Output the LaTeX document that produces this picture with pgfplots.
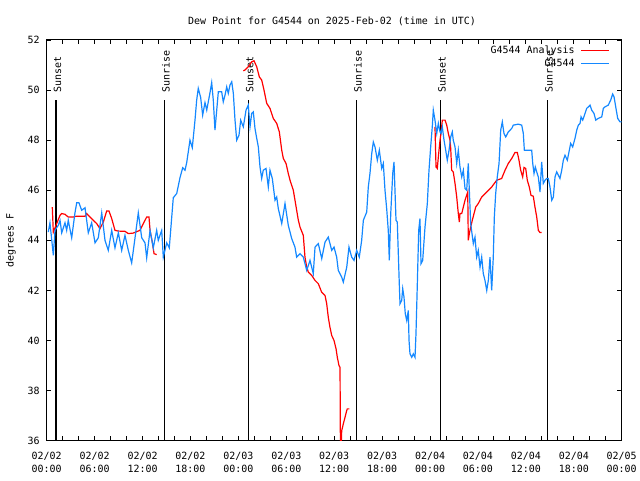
\documentclass[border=0pt]{standalone}
\usepackage{fontspec}
\setmainfont{DejaVu Sans Mono}
\usepackage{pgfplots}
\pgfplotsset{compat=1.18}
\definecolor{dpred}{RGB}{255,0,0}
\definecolor{dpblue}{RGB}{20,136,255}

\pgfplotstableread{
h v
0.20 44.33
0.41 44.70
0.83 43.40
1.04 44.40
1.45 44.60
1.67 44.80
1.88 44.30
2.29 44.70
2.50 44.40
2.70 44.80
3.13 44.10
3.54 45.10
3.76 45.50
4.04 45.50
4.38 45.20
4.80 45.30
5.21 44.30
5.63 44.70
6.05 43.90
6.46 44.10
6.89 45.10
7.30 44.00
7.71 43.60
8.14 44.40
8.55 43.70
8.97 44.30
9.39 43.60
9.80 44.20
10.22 43.60
10.64 43.10
11.06 44.10
11.47 45.10
11.90 44.10
12.31 43.90
12.52 43.30
12.94 44.40
13.35 43.70
13.77 44.40
13.97 44.00
14.40 44.40
14.60 43.33
15.03 43.90
15.35 43.70
15.65 44.90
15.85 45.70
16.28 45.87
16.69 46.50
17.03 46.90
17.32 46.80
17.53 47.10
17.94 48.00
18.23 47.70
18.57 48.80
18.78 49.60
18.98 50.07
19.28 49.70
19.53 49.00
19.82 49.50
20.04 49.20
20.45 49.90
20.66 50.30
20.86 49.60
21.07 48.40
21.29 49.20
21.49 49.93
21.91 49.93
22.11 49.53
22.33 49.80
22.54 50.13
22.74 49.87
22.95 50.20
23.17 50.33
23.37 49.87
23.58 48.80
23.79 48.00
24.08 48.20
24.29 48.80
24.62 48.53
24.96 49.20
25.24 49.40
25.46 48.53
25.67 49.07
25.87 49.13
26.08 48.47
26.30 48.07
26.50 47.73
26.71 46.93
26.92 46.47
27.12 46.80
27.46 46.87
27.75 46.13
27.96 46.80
28.25 46.47
28.59 45.60
28.80 45.73
29.00 45.27
29.43 44.67
29.84 45.47
30.25 44.60
30.68 44.07
31.09 43.73
31.30 43.33
31.72 43.47
32.13 43.33
32.56 42.80
32.97 43.20
33.38 42.67
33.60 43.73
34.01 43.87
34.44 43.27
34.85 43.93
35.26 44.13
35.69 43.60
35.98 43.73
36.31 43.33
36.51 42.80
36.94 42.53
37.14 42.33
37.57 42.93
37.85 43.73
38.19 43.33
38.48 43.20
38.82 43.60
39.14 43.33
39.44 44.00
39.65 44.80
40.07 45.13
40.27 46.13
40.48 46.67
40.70 47.47
40.90 47.93
41.11 47.73
41.40 47.20
41.65 47.60
41.95 46.87
42.15 47.07
42.36 46.00
42.57 45.27
42.77 44.40
42.90 43.20
43.08 45.07
43.33 46.67
43.49 47.13
43.61 46.00
43.74 44.80
43.90 44.73
44.15 42.27
44.24 41.47
44.45 41.60
44.58 42.07
44.74 41.73
44.90 41.07
45.08 40.80
45.28 41.20
45.37 40.00
45.49 39.47
45.71 39.33
45.91 39.47
46.12 39.33
46.24 40.27
46.41 42.27
46.58 44.40
46.74 44.87
46.87 43.07
47.08 43.20
47.37 44.53
47.66 45.47
47.87 46.80
48.08 47.73
48.28 48.53
48.41 49.20
48.62 48.80
48.84 48.27
49.04 48.67
49.25 48.33
49.37 48.27
49.54 48.53
49.75 48.00
49.96 47.60
50.16 47.20
50.38 47.60
50.59 48.13
50.79 48.33
50.91 48.00
51.13 47.73
51.34 47.07
51.54 47.60
51.75 46.93
51.97 46.53
52.17 46.80
52.38 46.07
52.59 46.00
52.79 47.07
52.92 46.00
53.09 44.67
53.42 43.87
53.63 44.13
53.84 43.33
54.04 43.60
54.26 42.93
54.47 43.33
54.67 42.67
54.88 42.40
55.10 42.00
55.30 42.40
55.51 43.33
55.72 42.00
55.92 43.33
56.05 44.93
56.22 45.87
56.42 46.53
56.64 47.07
56.85 48.40
57.05 48.73
57.26 48.27
57.48 48.13
57.80 48.33
58.23 48.47
58.43 48.60
59.05 48.64
59.48 48.60
59.68 48.27
59.81 47.60
60.31 47.60
60.73 47.60
60.86 47.07
61.02 46.67
61.18 46.93
61.36 46.73
61.56 46.53
61.77 45.93
61.98 47.13
62.18 46.27
62.40 46.40
62.61 46.47
62.81 46.47
63.02 46.13
63.24 45.60
63.44 45.73
63.65 46.53
63.86 46.73
64.27 46.47
64.49 46.80
64.69 47.20
64.90 47.40
65.19 47.20
65.40 47.53
65.61 47.87
65.86 47.73
66.15 48.07
66.37 48.40
66.57 48.60
66.78 48.67
66.91 48.93
67.12 48.80
67.41 49.07
67.62 49.27
67.82 49.33
68.03 49.40
68.24 49.20
68.53 49.07
68.75 48.80
69.07 48.87
69.50 48.93
69.70 49.27
69.91 49.33
70.32 49.40
70.62 49.60
70.87 49.84
71.04 49.73
71.25 49.33
71.50 48.87
71.79 48.73
72.00 48.73
}\bluedata

\pgfplotstableread{
h v
0.70 45.33
0.83 44.33
1.25 44.67
1.67 45.00
1.88 45.07
2.29 45.04
2.70 44.93
3.33 44.93
3.67 44.96
4.80 44.96
5.01 45.07
5.42 44.93
5.84 44.80
6.26 44.67
6.67 44.47
7.09 44.73
7.51 45.17
7.80 45.17
8.14 44.87
8.55 44.40
8.97 44.37
9.80 44.36
10.22 44.27
10.84 44.29
11.68 44.40
12.10 44.67
12.52 44.93
12.81 44.93
12.94 44.40
13.22 43.93
13.44 43.47
13.77 43.43
}\redA

\pgfplotstableread{
h v
24.62 50.77
24.83 50.80
25.24 50.93
25.67 51.13
25.96 51.17
26.30 50.93
26.62 50.53
26.92 50.40
27.21 50.00
27.55 49.47
27.96 49.27
28.37 48.87
28.80 48.67
29.13 48.33
29.43 47.60
29.63 47.27
29.97 47.07
30.25 46.67
30.47 46.40
30.88 46.00
31.09 45.60
31.30 45.20
31.51 44.80
31.72 44.53
32.13 44.20
32.34 43.33
32.56 42.93
32.76 42.73
33.18 42.60
33.60 42.40
34.01 42.27
34.43 41.93
34.85 41.80
35.06 41.47
35.26 40.93
35.47 40.53
35.69 40.20
35.98 40.00
36.23 39.67
36.39 39.33
36.60 39.00
36.73 38.93
36.79 35.00
36.94 36.40
37.14 36.67
37.35 36.93
37.56 37.20
37.64 37.27
37.89 37.27
}\redB

\pgfplotstableread{
h v
48.62 48.53
48.75 46.93
48.91 46.87
49.04 47.33
49.25 48.00
49.37 48.27
49.54 48.80
49.88 48.80
50.09 48.60
50.29 48.27
50.50 48.00
50.59 47.67
50.71 46.80
50.91 46.73
51.13 46.27
51.34 45.73
51.54 45.07
51.67 44.73
51.75 45.07
51.97 45.07
52.17 45.33
52.38 45.60
52.59 45.80
52.72 45.93
52.79 44.00
52.92 44.27
53.09 44.53
53.29 44.80
53.51 45.07
53.72 45.33
54.04 45.47
54.47 45.73
55.10 45.93
55.72 46.13
56.35 46.40
56.97 46.47
57.39 46.80
57.80 47.07
58.23 47.27
58.64 47.51
58.93 47.51
59.14 47.20
59.35 46.80
59.60 46.53
59.77 46.91
59.98 46.87
60.18 46.40
60.43 46.13
60.64 45.80
60.93 45.76
61.14 45.33
61.36 44.93
61.56 44.40
61.77 44.31
61.98 44.31
}\redC

\begin{document}
\begin{tikzpicture}[font=\fontsize{10}{13}\selectfont]
\path[use as bounding box] (-46.7bp,-40bp) rectangle (593.3bp,440.7bp);
\begin{axis}[
  at={(0,0)}, anchor=south west,
  scale only axis, width=575bp, height=400.7bp,
  xmin=0, xmax=72, ymin=36, ymax=52,
  xtick={0,6,...,72}, minor xtick={0,2,...,72},
  xticklabels={{02/02\\00:00},{02/02\\06:00},{02/02\\12:00},{02/02\\18:00},{02/03\\00:00},{02/03\\06:00},{02/03\\12:00},{02/03\\18:00},{02/04\\00:00},{02/04\\06:00},{02/04\\12:00},{02/04\\18:00},{02/05\\00:00}},
  ytick={36,38,...,52},
  major tick length=4.5bp, minor tick length=4.5bp,
  tick style={black, line width=0.9bp},
  axis line style={line width=1bp},
  /pgf/number format/assume math mode=true,
  tick label style={font=\fontsize{10}{13}\selectfont},
  xticklabel style={align=center, inner sep=0pt, anchor=north, yshift=-11.5bp},
  yticklabel style={inner sep=0pt, anchor=east, xshift=-7bp},
  legend style={at={(1,1)}, anchor=north east, xshift=-11.7bp, yshift=-4bp,
    draw=none, fill=none, inner sep=0pt, row sep=-0.5bp, column sep=4bp,
    font=\fontsize{10}{12}\selectfont},
  legend plot pos=right,
  legend cell align=right,
  legend image code/.code={\draw[#1] (0bp,0bp) -- (28bp,0bp);},
]
\addplot[black, line width=1.1bp, forget plot] coordinates {(1.16,36) (1.16,49.62)};
\addplot[black, line width=1.1bp, forget plot] coordinates {(14.73,36) (14.73,49.62)};
\addplot[black, line width=1.1bp, forget plot] coordinates {(25.24,36) (25.24,49.62)};
\addplot[black, line width=1.1bp, forget plot] coordinates {(38.77,36) (38.77,49.62)};
\addplot[black, line width=1.1bp, forget plot] coordinates {(49.31,36) (49.31,49.62)};
\addplot[black, line width=1.1bp, forget plot] coordinates {(62.68,36) (62.68,49.62)};
\node[rotate=90, anchor=west, inner sep=0pt] at (axis cs:1.35,49.9) {Sunset};
\node[rotate=90, anchor=west, inner sep=0pt] at (axis cs:14.92,49.9) {Sunrise};
\node[rotate=90, anchor=west, inner sep=0pt] at (axis cs:25.43,49.9) {Sunset};
\node[rotate=90, anchor=west, inner sep=0pt] at (axis cs:38.96,49.9) {Sunrise};
\node[rotate=90, anchor=west, inner sep=0pt] at (axis cs:49.50,49.9) {Sunset};
\node[rotate=90, anchor=west, inner sep=0pt] at (axis cs:62.87,49.9) {Sunrise};

\addplot[dpred, line width=1.2bp, mark=none] table[x=h, y=v] {\redA};
\addlegendentry{G4544 Analysis}
\addplot[dpred, line width=1.2bp, mark=none, forget plot] table[x=h, y=v] {\redB};
\addplot[dpred, line width=1.2bp, mark=none, forget plot] table[x=h, y=v] {\redC};
\addplot[dpblue, line width=1.2bp, mark=none] table[x=h, y=v] {\bluedata};
\addlegendentry{G4544}
\end{axis}
\node at (285.3bp,419.7bp) {Dew Point for G4544 on 2025-Feb-02 (time in UTC)};
\node[rotate=90] at (-35.7bp,200.35bp) {degrees F};
\end{tikzpicture}
\end{document}
